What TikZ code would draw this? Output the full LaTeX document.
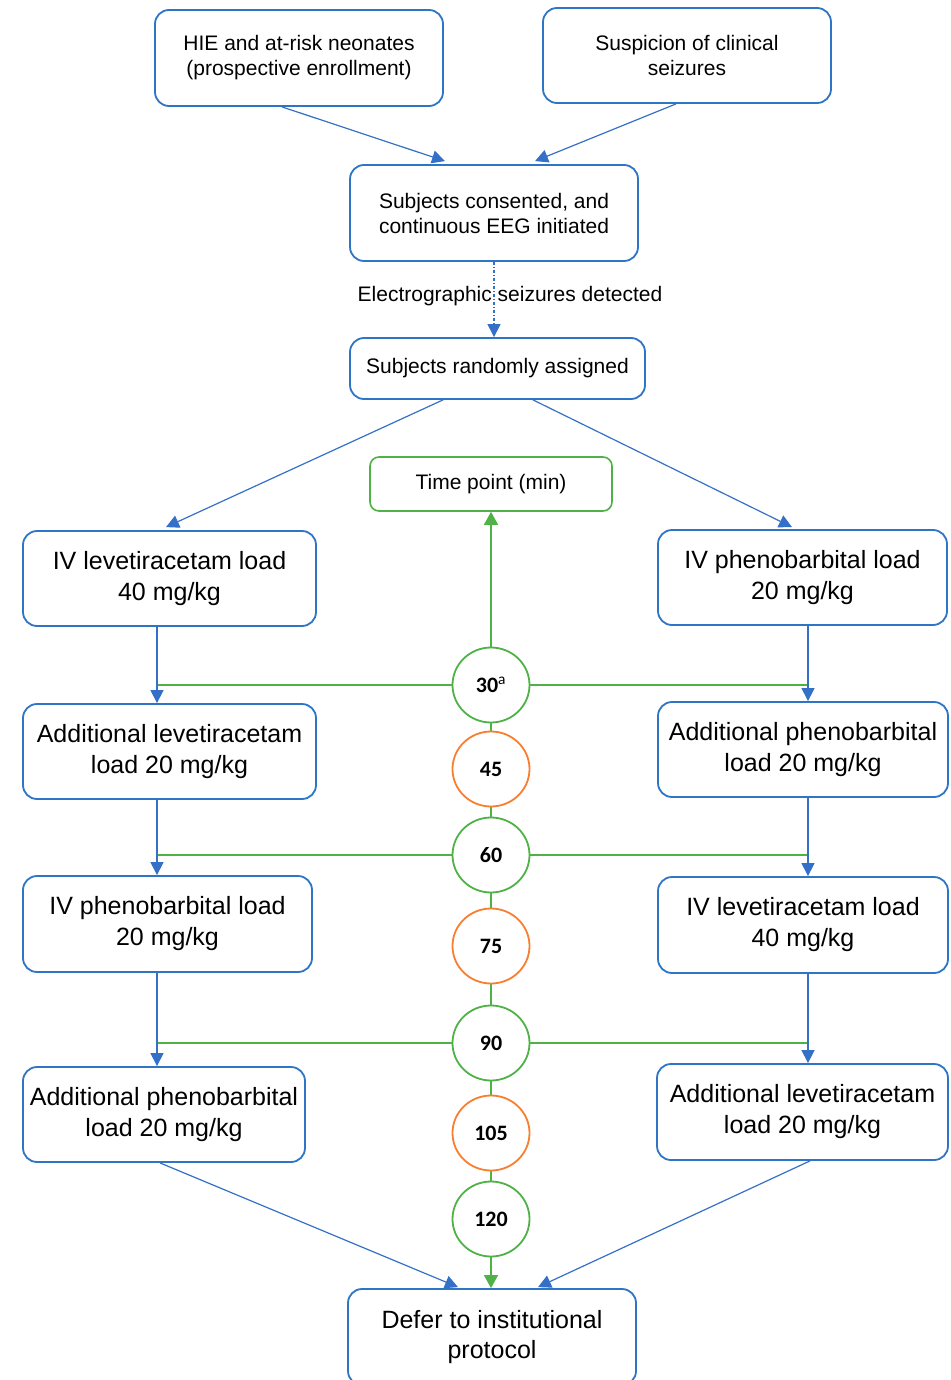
\documentclass[tikz,border=0pt]{standalone}
\usepackage{fontspec}
\setmainfont{Liberation Sans}
\newfontfamily\numfont{Carlito}
\usetikzlibrary{arrows.meta,calc,backgrounds,shapes.geometric}
\definecolor{boxblue}{RGB}{46,117,198}
\definecolor{lineblue}{RGB}{52,112,200}
\definecolor{tgreen}{RGB}{78,178,70}
\definecolor{torange}{RGB}{248,126,48}
\begin{document}
\begin{tikzpicture}[x=1pt,y=-1pt,
  box/.style={draw=boxblue, line width=1.8pt, rounded corners=14pt, fill=white, align=center, inner sep=0pt, text=black},
  smallbox/.style={box, font=\fontsize{21}{25}\selectfont},
  bigbox/.style={box, font=\fontsize{25}{31}\selectfont},
  tbox/.style={draw=tgreen, line width=1.6pt, rounded corners=9pt, fill=white, align=center, inner sep=0pt, text=black, font=\fontsize{21}{25}\selectfont},
  tpoint/.style={ellipse, line width=1.8pt, fill=white, minimum width=77pt, minimum height=75pt, inner sep=0pt, text=black, font=\numfont\bfseries\fontsize{22}{26}\selectfont},
  tpg/.style={tpoint, draw=tgreen},
  tpo/.style={tpoint, draw=torange},
  flow/.style={draw=lineblue, line width=1.2pt, -{Triangle[length=13pt,width=13pt]}},
  dotflow/.style={draw=lineblue, line width=1.1pt, dash pattern=on 3pt off 2pt on 1pt off 2pt, -{Triangle[length=13pt,width=13pt]}},
  gline/.style={draw=tgreen, line width=1.2pt},
  garrow/.style={draw=tgreen, line width=1.2pt, -{Triangle[length=13pt,width=14pt]}},
  lbl/.style={text=black, font=\fontsize{21}{25}\selectfont, inner sep=0pt}
]
\useasboundingbox (0,0) rectangle (950,1380);
\clip (0,0) rectangle (950,1380);

% top boxes
\node[smallbox, minimum width=288pt, minimum height=96pt] (hie) at (299,58) {HIE and at-risk neonates\\(prospective enrollment)};
\node[smallbox, minimum width=288pt, minimum height=95pt] (susp) at (687,55.5) {Suspicion of clinical\\seizures};
\node[smallbox, minimum width=288pt, minimum height=96pt] (cons) at (494,213) {Subjects consented, and\\continuous EEG initiated};
\node[smallbox, minimum width=295pt, minimum height=61pt] (rand) at (497.5,368.5) {Subjects randomly assigned};
\node[lbl] (esd) at (510,296) {Electrographic seizures detected};
\node[tbox, minimum width=242pt, minimum height=54pt] (time) at (491,484) {Time point (min)};

% left column
\node[bigbox, minimum width=293pt, minimum height=95pt] (lev1) at (169.5,578.5) {IV levetiracetam load\\40 mg/kg};
\node[bigbox, minimum width=293pt, minimum height=95pt] (addlev1) at (169.5,751.5) {Additional levetiracetam\\load 20 mg/kg};
\node[bigbox, minimum width=289pt, minimum height=96pt] (phen2) at (167.5,924) {IV phenobarbital load\\20 mg/kg};
\node[bigbox, minimum width=282pt, minimum height=95pt] (addphen2) at (164,1114.5) {Additional phenobarbital\\load 20 mg/kg};

% right column
\node[bigbox, minimum width=289pt, minimum height=95pt] (phen1) at (802.5,577.5) {IV phenobarbital load\\20 mg/kg};
\node[bigbox, minimum width=290pt, minimum height=95pt] (addphen1) at (803,749.5) {Additional phenobarbital\\load 20 mg/kg};
\node[bigbox, minimum width=290pt, minimum height=96pt] (lev2) at (803,925) {IV levetiracetam load\\40 mg/kg};
\node[bigbox, minimum width=291pt, minimum height=96pt] (addlev2) at (802.5,1112) {Additional levetiracetam\\load 20 mg/kg};

% bottom box
\node[bigbox, font=\fontsize{25}{30}\selectfont, minimum width=288pt, minimum height=96pt] (defer) at (492,1337) {Defer to institutional\\protocol};

% time points
\node[tpg] (c30) at (491,685) {30\textsuperscript{\mdseries a}};
\node[tpo] (c45) at (491,769) {45};
\node[tpg] (c60) at (491,855) {60};
\node[tpo] (c75) at (491,946) {75};
\node[tpg] (c90) at (491,1043) {90};
\node[tpo] (c105) at (491,1133) {105};
\node[tpg] (c120) at (491,1219) {120};

\coordinate (xl) at (157,0);
\coordinate (xr) at (808,0);

\begin{pgfonlayer}{background}
  \draw[gline] (c30) -- (c45) -- (c60) -- (c75) -- (c90) -- (c105) -- (c120);
  \draw[gline] (c30 -| xl) -- (c30 -| xr);
  \draw[gline] (c60 -| xl) -- (c60 -| xr);
  \draw[gline] (c90 -| xl) -- (c90 -| xr);
\end{pgfonlayer}

% connectors
\draw[flow] ([xshift=-17pt]hie.south) -- ([xshift=-49pt,yshift=3pt]cons.north);
\draw[flow] ([xshift=-11pt]susp.south) -- ([xshift=41pt,yshift=3pt]cons.north);
\draw[dotflow] (cons.south) -- (cons.south |- rand.north);
\draw[flow] ([xshift=-54.5pt]rand.south) -- ([xshift=-3.5pt,yshift=3pt]lev1.north);
\draw[flow] ([xshift=35.5pt]rand.south) -- ([xshift=-10.5pt,yshift=2pt]phen1.north);

\draw[flow] (lev1.south -| xl) -- (addlev1.north -| xl);
\draw[flow] (addlev1.south -| xl) -- (phen2.north -| xl);
\draw[flow] (phen2.south -| xl) -- (addphen2.north -| xl);
\draw[flow] (phen1.south -| xr) -- (addphen1.north -| xr);
\draw[flow] (addphen1.south -| xr) -- (lev2.north -| xr);
\draw[flow] (lev2.south -| xr) -- (addlev2.north -| xr);

\draw[garrow] (c30) -- (c30 |- time.south);
\draw[garrow] (c120) -- (c120 |- defer.north);

\draw[flow] ([xshift=-4pt]addphen2.south) -- ([xshift=-34pt,yshift=1pt]defer.north);
\draw[flow] ([xshift=7.5pt]addlev2.south) -- ([xshift=46pt,yshift=1pt]defer.north);
\end{tikzpicture}
\end{document}
